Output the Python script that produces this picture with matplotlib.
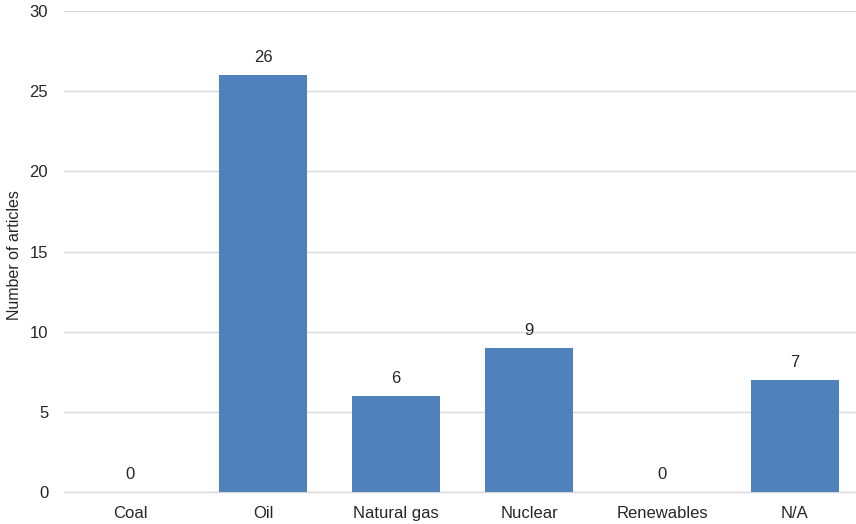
import matplotlib
matplotlib.use("Agg")
import matplotlib.pyplot as plt

categories = ["Coal", "Oil", "Natural gas", "Nuclear", "Renewables", "N/A"]
articles = [0, 26, 6, 9, 0, 7]
y_ticks = [0, 5, 10, 15, 20, 25, 30]

plt.rcParams["font.family"] = ["Liberation Sans", "DejaVu Sans"]
text_color = "#262626"
bar_color = "#4F81BD"
grid_color = "#D9D9D9"

W, H = 856, 524
fig = plt.figure(figsize=(W / 100, H / 100), dpi=100)
left, bottom, width, height = 63.5, 32, 798, 481
ax = fig.add_axes([left / W, bottom / H, width / W, height / H])

x = list(range(len(categories)))
ax.bar(x, articles, width=0.66, color=bar_color, zorder=3)

for xi, v in zip(x, articles):
    ax.annotate(str(v), (xi, v), xytext=(0, 7), textcoords="offset points",
                ha="center", va="bottom", fontsize=12, color=text_color)

ax.set_xlim(-0.5, len(categories) - 0.5)
ax.set_ylim(0, 30)
ax.set_yticks(y_ticks)
ax.set_xticks(x)
ax.set_xticklabels(categories)
ax.tick_params(axis="both", length=0, labelsize=12, labelcolor=text_color)
ax.tick_params(axis="y", pad=11)
ax.tick_params(axis="x", pad=10)
ax.yaxis.grid(True, color=grid_color, linewidth=1.0, zorder=0)
ax.set_axisbelow(True)
for s in ["top", "right", "left"]:
    ax.spines[s].set_visible(False)
ax.spines["bottom"].set_color(grid_color)
ax.spines["bottom"].set_linewidth(1.0)

ax.set_ylabel("Number of articles", fontsize=11.5, color=text_color)
# rotated label: its anchor is the right-hand edge, ~22 px from the figure edge
ax.yaxis.set_label_coords((22 - left) / width, (H - bottom - 255) / height)

fig.savefig("out.png", dpi=100, facecolor="white")
